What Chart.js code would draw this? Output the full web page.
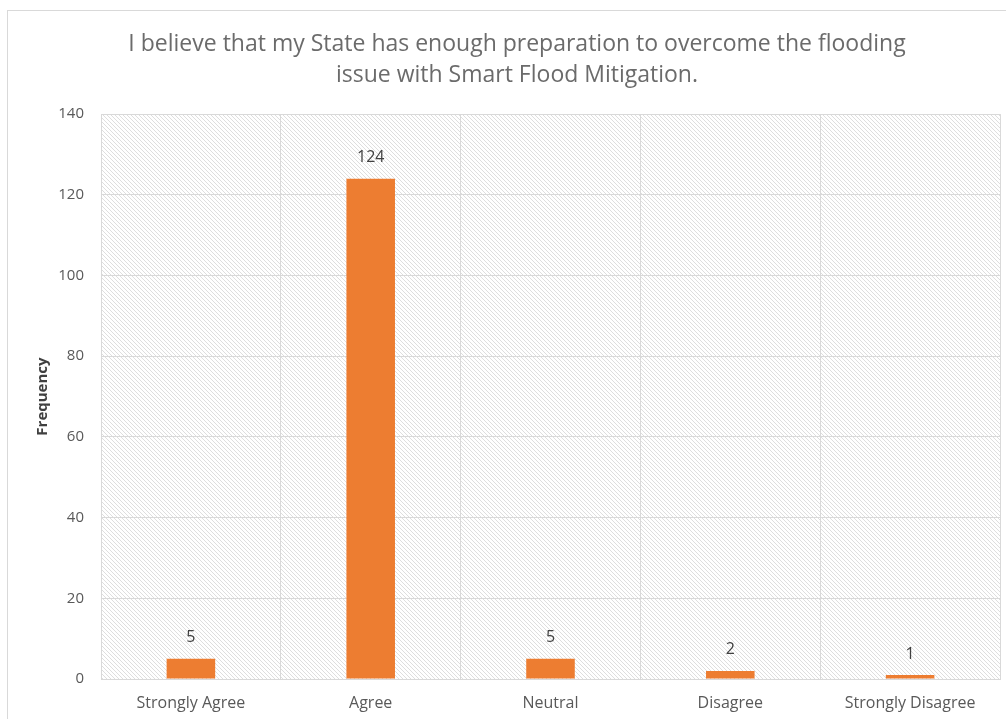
<!DOCTYPE html>
<html>
<head>
<meta charset="utf-8">
<script src="https://cdn.jsdelivr.net/npm/chart.js@4/dist/chart.umd.min.js"></script>
<style>
  html, body { margin: 0; padding: 0; background: #fff; }
  #wrap { width: 1006px; height: 719px; }
</style>
</head>
<body>
<div id="wrap"><canvas id="chart" width="1006" height="719"></canvas></div>
<script>
const categories = ['Strongly Agree', 'Agree', 'Neutral', 'Disagree', 'Strongly Disagree'];
const frequency = [5, 124, 5, 2, 1];
const titleLines = ['I believe that my State has enough preparation to overcome the flooding',
  'issue with Smart Flood Mitigation.'];
const yMax = 140;
const yStep = 20;

const FONT = '"Open Sans", sans-serif';
const GREY = '#595959';

// diagonal hatch used behind the plot area
function makeHatch() {
  const c = document.createElement('canvas');
  c.width = 4; c.height = 4;
  const g = c.getContext('2d');
  g.fillStyle = '#ffffff';
  g.fillRect(0, 0, 4, 4);
  g.strokeStyle = '#dedede';
  g.lineWidth = 1;
  g.beginPath();
  g.moveTo(-1, -1); g.lineTo(5, 5);
  g.moveTo(-1, 3); g.lineTo(1, 5);
  g.moveTo(3, -1); g.lineTo(5, 1);
  g.stroke();
  return c;
}

const hatchPlugin = {
  id: 'hatch',
  beforeDraw(chart) {
    const { ctx, chartArea: a } = chart;
    ctx.save();
    ctx.strokeStyle = '#d9d9d9';
    ctx.lineWidth = 1;
    ctx.strokeRect(7.5, 10.5, chart.width + 20, chart.height + 20);
    ctx.fillStyle = ctx.createPattern(makeHatch(), 'repeat');
    ctx.fillRect(a.left, a.top, a.right - a.left, a.bottom - a.top);
    ctx.restore();
  }
};

const labelPlugin = {
  id: 'barLabels',
  afterDatasetsDraw(chart) {
    const { ctx } = chart;
    const meta = chart.getDatasetMeta(0);
    ctx.save();
    ctx.font = '16px ' + FONT;
    ctx.fillStyle = '#404040';
    ctx.textAlign = 'center';
    ctx.textBaseline = 'middle';
    meta.data.forEach((bar, i) => {
      ctx.fillText(String(frequency[i]), bar.x, bar.y - 21);
    });
    ctx.restore();
  }
};

new Chart(document.getElementById('chart'), {
  type: 'bar',
  data: {
    labels: categories,
    datasets: [{
      data: frequency,
      backgroundColor: '#ED7D31',
      borderWidth: 0,
      categoryPercentage: 1,
      barPercentage: 0.27
    }]
  },
  options: {
    responsive: false,
    animation: false,
    layout: { padding: { left: 34, right: 6, top: 0, bottom: 0 } },
    plugins: {
      legend: { display: false },
      tooltip: { enabled: false },
      title: {
        display: true,
        text: titleLines,
        color: '#6b6b6b',
        font: { family: FONT, size: 23, weight: 'normal', lineHeight: 1.35 },
        padding: { top: 29, bottom: 23 }
      }
    },
    scales: {
      x: {
        afterFit(scale) { scale.height = 40; },
        grid: { color: '#d9d9d9', lineWidth: 1, offset: true, drawTicks: false },
        border: { color: '#d9d9d9' },
        ticks: { color: GREY, font: { family: FONT, size: 16 }, padding: 15 }
      },
      y: {
        min: 0,
        max: yMax,
        afterFit(scale) { scale.width = 67; },
        grid: { color: '#d9d9d9', lineWidth: 1, drawTicks: false },
        border: { color: '#d9d9d9' },
        ticks: { stepSize: yStep, color: GREY, font: { family: FONT, size: 15 }, padding: 17 },
        title: {
          display: true,
          text: 'Frequency',
          color: '#404040',
          font: { family: FONT, size: 15, weight: 'bold' },
          padding: 0
        }
      }
    }
  },
  plugins: [hatchPlugin, labelPlugin]
});
</script>
</body>
</html>
